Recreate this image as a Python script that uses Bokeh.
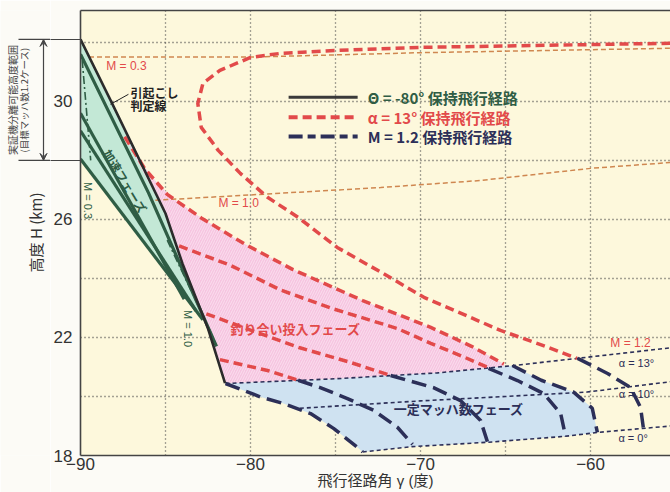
import numpy as np
from bokeh.plotting import figure
from bokeh.layouts import row
from bokeh.models import Label, Arrow, VeeHead, FixedTicker, LinearAxis, Range1d
from bokeh.embed import file_html
from bokeh.resources import INLINE

JP = "Noto Sans CJK JP"
NUM = "Liberation Sans"
MIXED = "'Liberation Sans', 'Noto Sans CJK JP'"

# ---- axes -------------------------------------------------------------
x_ticks = [-90, -80, -70, -60]
y_ticks = [18, 22, 26, 30]
x_grid = [-85, -80, -75, -70, -65, -60]
y_grid = [20, 22, 24, 26, 28, 30, 32]

# ---- pull-up decision line (引起こし判定線) ---------------------------
pullup_g = [-90.0, -88.2, -85.0, -84.0, -82.5, -81.5]
pullup_h = [32.1, 30.0, 26.2, 24.5, 22.3, 20.45]

# ---- Θ = -80° hold paths (acceleration phase) --------------------------
theta_paths = [
    ([-90.0, -86.0, -82.0], [31.6, 26.9, 21.7]),
    ([-90.0, -83.9], [29.6, 23.3]),
    ([-90.0, -83.2], [29.0, 22.9]),
    ([-90.0, -82.8], [28.05, 22.6]),
]
# iso-Mach lines inside the acceleration phase
accel_m03_g = [-89.9, -89.4]
accel_m03_h = [31.4, 28.0]
accel_m10_g = [-84.9, -82.2]
accel_m10_h = [25.3, 22.0]

# ---- α = 13° hold paths ------------------------------------------------
alpha_outer_g = [-55.3, -70.0, -74.9, -78.2, -80.0, -81.8, -82.8, -83.1, -82.9,
                 -81.9, -80.6, -79.0, -77.2, -74.9, -72.2, -69.8, -65.3, -62.9, -60.8]
alpha_outer_h = [31.97, 31.83, 31.73, 31.63, 31.49, 31.05, 30.61, 29.93, 29.12,
                 28.34, 27.56, 26.75, 26.07, 25.05, 24.17, 23.36, 22.24, 21.75, 21.29]
alpha_b_g = [-87.4, -86.2, -84.9, -82.9, -80.3, -77.5, -73.4, -69.4, -67.0, -65.1]
alpha_b_h = [28.8, 27.7, 26.85, 26.05, 25.15, 24.3, 23.25, 22.34, 21.7, 21.1]
alpha_c_g = [-84.2, -81.2, -78.2, -75.3, -71.35, -69.4, -67.5, -65.9]
alpha_c_h = [25.1, 24.45, 23.6, 23.0, 22.3, 21.8, 21.35, 20.95]
alpha_d_g = [-82.6, -80.0, -77.1, -74.1, -71.8]
alpha_d_h = [22.8, 22.25, 21.65, 21.15, 20.72]
alpha_e_g = [-81.8, -79.0, -77.2]
alpha_e_h = [21.25, 20.88, 20.55]

# ---- M = 1.2 hold paths -----------------------------------------------
mach_paths = [
    ([-81.47, -79.4, -78.06, -76.47, -75.12, -73.7, -73.4],
     [20.44, 19.98, 19.76, 19.42, 18.92, 18.27, 18.12]),
    ([-77.2, -75.9, -74.3, -72.76, -71.35, -70.47],
     [20.55, 20.3, 19.93, 19.53, 18.95, 18.38]),
    ([-71.76, -69.24, -67.65, -66.47, -66.06],
     [20.71, 20.3, 19.86, 19.19, 18.45]),
    ([-66.0, -64.3, -62.76, -61.76, -61.47],
     [20.95, 20.54, 20.1, 19.42, 18.65]),
    ([-64.6, -62.9, -61.0, -59.9, -59.6],
     [21.05, 20.55, 20.15, 19.6, 18.78]),
    ([-60.76, -59.0, -57.65, -57.06, -56.9],
     [21.29, 20.78, 20.3, 19.63, 18.95]),
]

# ---- trim-angle lines --------------------------------------------------
a13_g = [-81.47, -75.0, -69.0, -64.5, -60.8, -55.3]
a13_h = [20.44, 20.6, 20.8, 21.05, 21.29, 21.65]
a10_g = [-77.1, -70.0, -65.0, -60.2, -55.3]
a10_h = [19.6, 19.85, 20.0, 20.15, 20.5]
a0_g = [-73.4, -70.5, -66.0, -61.5, -59.6, -55.3]
a0_h = [18.12, 18.3, 18.45, 18.65, 18.78, 19.0]

# ---- iso-Mach lines ----------------------------------------------------
m03_g = [-89.5, -80.0, -70.0, -55.3]
m03_h = [31.5, 31.5, 31.65, 31.8]
m10_g = [-85.6, -83.7, -72.35, -66.47, -60.0, -55.3]
m10_h = [26.65, 26.71, 27.08, 27.32, 27.73, 27.93]

# separation altitude range (target Mach 1.2)
sep_low, sep_high = 28.0, 32.1

C_BLACK = "#2b2b2b"
C_GREEN = "#2f5d45"
C_RED = "#e24a4a"
C_NAVY = "#2c2f58"
C_ORANGE = "#cf8750"
C_GRID = "#4a4a4a"
C_AXIS = "#444444"
PAGE = "#fcfbf6"

Y_RANGE = Range1d(18, 33.08)
BRACKET_OUT = 30

p = figure(width=620, height=492, x_range=Range1d(-90, -55.3), y_range=Y_RANGE,
           output_backend="svg", toolbar_location=None,
           min_border_left=30, min_border_right=0, min_border_top=10, min_border_bottom=37,
           background_fill_color="#fdf8dc", border_fill_color=PAGE)
p.outline_line_color = None

for ax in (p.xaxis, p.yaxis):
    ax.axis_line_color = C_AXIS
    ax.axis_line_width = 1.6
    ax.major_tick_line_color = None
    ax.major_tick_out = 0
    ax.major_tick_in = 0
    ax.minor_tick_in = 0
    ax.major_label_text_font = NUM
    ax.major_label_text_font_size = "17px"
    ax.major_label_text_color = "#333333"
p.xaxis.ticker = FixedTicker(ticks=x_ticks)
p.xaxis.minor_tick_line_color = None
p.xaxis.minor_tick_out = 0
# the bracket marking the separation altitude range reaches into the y-axis panel
p.yaxis.ticker = FixedTicker(ticks=y_ticks, minor_ticks=[sep_low, sep_high])
p.yaxis.minor_tick_out = BRACKET_OUT
p.yaxis.minor_tick_line_color = C_AXIS
p.yaxis.minor_tick_line_width = 1.2
p.xaxis.major_label_standoff = 2
p.yaxis.major_label_standoff = 8 - BRACKET_OUT
p.xaxis.axis_label = "飛行径路角 γ (度)"
p.xaxis.axis_label_text_font = MIXED
p.xaxis.axis_label_text_font_size = "15px"
p.xaxis.axis_label_text_font_style = "normal"
p.xaxis.axis_label_text_color = "#333333"
p.xaxis.axis_label_standoff = -1

top_axis = LinearAxis(ticker=FixedTicker(ticks=[]), axis_line_color=C_AXIS, axis_line_width=1.6,
                      major_tick_line_color=None, minor_tick_line_color=None,
                      major_tick_out=0, minor_tick_out=0, major_label_text_font_size="0px")
p.add_layout(top_axis, "above")

p.xgrid.ticker = FixedTicker(ticks=x_grid)
p.ygrid.ticker = FixedTicker(ticks=y_grid)
for g in (p.xgrid, p.ygrid):
    g.grid_line_color = C_GRID
    g.grid_line_dash = "1 3"
    g.grid_line_width = 1.3


def section(xs, ys, x0, x1, n=25):
    xx = np.linspace(x0, x1, n)
    return list(xx), list(np.interp(xx, xs, ys))


# ---- filled phases ----------------------------------------------------
# acceleration phase: between the pull-up line and the lowest Θ path
low_g, low_h = theta_paths[-1]
tg = list(pullup_g[:4]) + [low_g[-1]] + list(low_g[::-1])
th = list(pullup_h[:4]) + [low_h[-1]] + list(low_h[::-1])
p.patch(tg, th, fill_color="#c3e8d6", line_color=None)

# equilibrium insertion phase: pull-up line / α=13 trim line / upper α path
bx, by = section(alpha_b_g, alpha_b_h, alpha_b_g[0], alpha_b_g[-1])
ax13, ay13 = section(a13_g, a13_h, alpha_b_g[-1], a13_g[0])
pl = [(g, h) for g, h in zip(pullup_g, pullup_h) if g > alpha_b_g[0]]
pink_g = bx + ax13 + [g for g, _ in pl][::-1]
pink_h = by + ay13 + [h for _, h in pl][::-1]
p.patch(pink_g, pink_h, fill_color="#f6c4e0", line_color=None,
        hatch_pattern="/", hatch_color="white", hatch_alpha=0.45, hatch_scale=5, hatch_weight=1)

# constant Mach phase
last_g, last_h = mach_paths[4]
first_g, first_h = mach_paths[0]
tx, ty = section(a13_g, a13_h, a13_g[0], last_g[0])
bx0, by0 = section(a0_g, a0_h, last_g[-1], first_g[-1])
blue_g = tx + list(last_g) + bx0 + list(first_g[::-1])
blue_h = ty + list(last_h) + by0 + list(first_h[::-1])
p.patch(blue_g, blue_h, fill_color="#cfe2f1", line_color=None)

# ---- thin reference lines ---------------------------------------------
p.line(m03_g, m03_h, line_color=C_ORANGE, line_width=1.5, line_dash="5 3")
p.line(m10_g, m10_h, line_color=C_ORANGE, line_width=1.5, line_dash="5 3")
for g_, h_ in ((a13_g, a13_h), (a10_g, a10_h), (a0_g, a0_h)):
    p.line(g_, h_, line_color=C_NAVY, line_width=1.6, line_dash="4 3")
p.line(accel_m03_g, accel_m03_h, line_color=C_GREEN, line_width=1.6, line_dash="8 3 2 3")
p.line(accel_m10_g, accel_m10_h, line_color=C_GREEN, line_width=1.6, line_dash="8 3 2 3")

# ---- hold paths --------------------------------------------------------
for g_, h_ in theta_paths:
    p.line(g_, h_, line_color=C_GREEN, line_width=3.2)
for g_, h_ in ((alpha_outer_g, alpha_outer_h), (alpha_b_g, alpha_b_h), (alpha_c_g, alpha_c_h),
               (alpha_d_g, alpha_d_h), (alpha_e_g, alpha_e_h)):
    p.line(g_, h_, line_color=C_RED, line_width=3.5, line_dash="9 5")
for g_, h_ in mach_paths:
    p.line(g_, h_, line_color=C_NAVY, line_width=3.5, line_dash="15 7")
p.line(pullup_g, pullup_h, line_color=C_BLACK, line_width=2.6)

# ---- legend ------------------------------------------------------------
leg_g = [-77.76, -73.7]
leg_rows = [30.14, 29.46, 28.81]
p.line(leg_g, [leg_rows[0]] * 2, line_color="#3a3a3a", line_width=3)
p.line(leg_g, [leg_rows[1]] * 2, line_color=C_RED, line_width=4, line_dash="9 5")
p.line(leg_g, [leg_rows[2]] * 2, line_color=C_NAVY, line_width=4, line_dash="14 5 8 5")
for txt, col, yy in (("Θ = -80° 保持飛行経路", C_GREEN, leg_rows[0]),
                     ("α =  13° 保持飛行経路", C_RED, leg_rows[1]),
                     ("M =  1.2 保持飛行経路", C_NAVY, leg_rows[2])):
    p.add_layout(Label(x=-73.1, y=yy, text=txt, text_color=col, text_font=JP,
                       text_font_size="15px", text_font_style="bold", text_baseline="middle"))


def lab(fig, x, y, text, color, size="11px", angle=0.0, align="center", style="normal", font=NUM):
    fig.add_layout(Label(x=x, y=y, text=text, text_color=color, text_font=font, text_font_size=size,
                         angle=angle, text_align=align, text_baseline="middle",
                         text_font_style=style))


lab(p, -87.3, 31.19, "M = 0.3", C_RED, size="12px")
lab(p, -80.7, 26.54, "M = 1.0", C_RED, size="12px")
lab(p, -57.65, 21.8, "M = 1.2", C_RED, size="12px")
lab(p, -57.3, 21.15, "α = 13°", C_NAVY)
lab(p, -57.3, 20.1, "α = 10°", C_NAVY)
lab(p, -57.5, 18.6, "α = 0°", C_NAVY)
lab(p, -89.55, 26.64, "M = 0.3", C_GREEN, angle=-np.pi / 2)
lab(p, -83.7, 22.3, "M = 1.0", C_GREEN, angle=-np.pi / 2)
lab(p, -77.35, 22.3, "釣り合い投入フェーズ", C_RED, size="13px", font=JP, style="bold")
lab(p, -67.76, 19.6, "一定マッハ数フェーズ", C_NAVY, size="13px", font=JP, style="bold")
lab(p, -87.35, 27.3, "加速フェーズ", C_GREEN, size="12px", angle=-1.02, font=JP, style="bold")
lab(p, -87.06, 30.3, "引起こし", "#222222", size="12px", align="left", font=JP, style="bold")
lab(p, -87.06, 29.86, "判定線", "#222222", size="12px", align="left", font=JP, style="bold")
p.add_layout(Arrow(x_start=-88.24, y_start=29.9, x_end=-87.18, y_end=30.24, end=None,
                   line_color="#222222", line_width=1))

# ---- side panel: y title and separation-altitude bracket ----------------
side = figure(width=50, height=492, x_range=Range1d(0, 50), y_range=Y_RANGE,
              output_backend="svg", toolbar_location=None,
              min_border_left=0, min_border_right=0, min_border_top=10, min_border_bottom=37,
              background_fill_color=PAGE, border_fill_color=PAGE)
side.axis.visible = False
side.grid.visible = False
side.outline_line_color = None
for hh in (sep_low, sep_high):
    side.line([18, 50], [hh, hh], line_color=C_AXIS, line_width=1.2)
side.add_layout(Arrow(x_start=43, y_start=sep_low, x_end=43, y_end=sep_high,
                      start=VeeHead(size=7, line_color=C_AXIS, fill_color=C_AXIS),
                      end=VeeHead(size=7, line_color=C_AXIS, fill_color=C_AXIS),
                      line_color=C_AXIS, line_width=1.2))
lab(side, 11.5, (sep_low + sep_high) / 2, "実証機分離可能高度範囲", "#444444", size="10px",
    angle=np.pi / 2, font=JP)
lab(side, 23, (sep_low + sep_high) / 2, "(目標マッハ数1.2ケース)", "#444444", size="9.5px",
    angle=np.pi / 2, font=JP)
lab(side, 35, 25.56, "高度 H (km)", "#333333", size="15px", angle=np.pi / 2, font=JP)

layout = row(side, p)
open("out.html", "w").write(file_html(layout, INLINE))
